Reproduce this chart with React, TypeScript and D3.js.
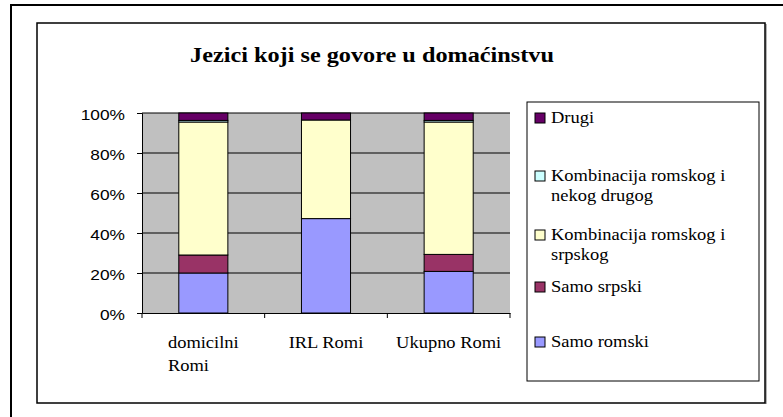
import React, { useEffect, useRef } from 'react'
import * as d3 from 'd3'

// categories and the share (%) of each language group
const categories = ['domicilni Romi', 'IRL Romi', 'Ukupno Romi']
const samoRomski = [20, 47.2, 20.8]
const samoSrpski = [9, 0, 8.5]
const kombSrpski = [66.5, 49.3, 66.2]
const kombDrugi = [0.8, 0, 0.8]
const drugi = [3.7, 3.5, 3.7]

const seriesNames = [
  'Samo romski',
  'Samo srpski',
  'Kombinacija romskog i srpskog',
  'Kombinacija romskog i nekog drugog',
  'Drugi',
]
const seriesColors = ['#9999FF', '#993366', '#FFFFCC', '#CCFFFF', '#660066']
const yTicks = [0, 20, 40, 60, 80, 100]

const SERIF = 'Liberation Serif, Times New Roman, serif'
const SANS = 'Liberation Sans, Arial, sans-serif'
const SX = 1.155 // the source picture is a bit stretched horizontally

const App = () => {
  const svgRef = useRef<SVGSVGElement>(null)

  useEffect(() => {
    const svg = d3.select(svgRef.current)
    svg.selectAll('*').remove()

    // helper for (stretched) text
    const addText = (g: any, x: number, y: number, txt: string, size: number, font: string, anchor = 'start', weight = 'normal') =>
      g
        .append('text')
        .attr('transform', `translate(${x},${y}) scale(${SX},1)`)
        .attr('text-anchor', anchor)
        .attr('font-family', font)
        .attr('font-size', size)
        .attr('font-weight', weight)
        .attr('fill', '#000')
        .text(txt)

    const measure = (txt: string, size: number, font: string) => {
      const probe = svg.append('text').attr('font-family', font).attr('font-size', size).text(txt)
      const w = (probe.node() as SVGTextElement).getComputedTextLength() * SX
      probe.remove()
      return w
    }

    const wrap = (txt: string, size: number, font: string, maxW: number) => {
      const lines: string[] = []
      let cur = ''
      txt.split(' ').forEach((w) => {
        const test = cur ? cur + ' ' + w : w
        if (measure(test, size, font) > maxW && cur) {
          lines.push(cur)
          cur = w
        } else cur = test
      })
      lines.push(cur)
      return lines
    }

    // outer frame and chart frame
    svg.append('rect').attr('x', 11).attr('y', 5).attr('width', 800).attr('height', 430)
      .attr('fill', 'none').attr('stroke', '#000').attr('stroke-width', 2)
    svg.append('line').attr('x1', 766).attr('x2', 766).attr('y1', 24).attr('y2', 404)
      .attr('stroke', '#999').attr('stroke-width', 1.5)
    svg.append('rect').attr('x', 37).attr('y', 23).attr('width', 728).attr('height', 380)
      .attr('fill', '#fff').attr('stroke', '#000').attr('stroke-width', 1.5)

    // title
    addText(svg, 372, 62, 'Jezici koji se govore u domaćinstvu', 21, SERIF, 'middle', 'bold')

    // scales
    const plot = { left: 142, right: 510, top: 113, bottom: 313 }
    const x = d3.scaleBand<string>().domain(categories).range([plot.left, plot.right]).padding(0)
    const y = d3.scaleLinear().domain([0, 100]).range([plot.bottom, plot.top])

    // plot background + gridlines
    svg.append('rect').attr('x', plot.left).attr('y', plot.top)
      .attr('width', plot.right - plot.left).attr('height', plot.bottom - plot.top).attr('fill', '#C0C0C0')
    svg.append('g').selectAll('line').data(yTicks.slice(1)).enter().append('line')
      .attr('x1', plot.left).attr('x2', plot.right)
      .attr('y1', (d) => y(d)).attr('y2', (d) => y(d))
      .attr('stroke', '#000').attr('stroke-width', 1)

    // stacked bars
    const rows = categories.map((c, i) => ({
      cat: c,
      'Samo romski': samoRomski[i],
      'Samo srpski': samoSrpski[i],
      'Kombinacija romskog i srpskog': kombSrpski[i],
      'Kombinacija romskog i nekog drugog': kombDrugi[i],
      Drugi: drugi[i],
    }))
    const stacked = d3.stack<any>().keys(seriesNames)(rows)
    const barW = x.bandwidth() * 0.4
    stacked.forEach((layer, si) => {
      svg.append('g').selectAll('rect').data(layer).enter().append('rect')
        .attr('x', (d: any) => (x(d.data.cat) as number) + (x.bandwidth() - barW) / 2)
        .attr('y', (d: any) => y(d[1]))
        .attr('width', barW)
        .attr('height', (d: any) => y(d[0]) - y(d[1]))
        .attr('fill', seriesColors[si])
        .attr('stroke', '#000')
        .attr('stroke-width', (d: any) => (d[1] - d[0] > 0 ? 1 : 0))
    })

    // y axis
    const yAxis = svg.append('g').attr('transform', `translate(${plot.left},0)`)
      .call(d3.axisLeft(y).tickValues(yTicks).tickSize(5).tickFormat(() => ''))
    yAxis.select('.domain').attr('stroke', '#000')
    yTicks.forEach((t) => addText(svg, 125, y(t) + 7, t + '%', 15, SANS, 'end'))

    // x axis
    const xAxis = svg.append('g').attr('transform', `translate(0,${plot.bottom})`)
      .call(d3.axisBottom(x).tickSize(0).tickFormat(() => ''))
    xAxis.select('.domain').attr('stroke', '#000')
    const bounds = [...categories.map((c) => x(c) as number), plot.right]
    svg.append('g').selectAll('line').data(bounds).enter().append('line')
      .attr('x1', (d) => d).attr('x2', (d) => d)
      .attr('y1', plot.bottom).attr('y2', plot.bottom + 5)
      .attr('stroke', '#000')
    categories.forEach((c) => {
      const lines = wrap(c, 16, SERIF, 110)
      const cx = (x(c) as number) + x.bandwidth() / 2
      const w0 = measure(lines[0], 16, SERIF)
      lines.forEach((ln, li) => {
        if (lines.length > 1) addText(svg, cx - w0 / 2, 348 + li * 23, ln, 16, SERIF, 'start')
        else addText(svg, cx, 348, ln, 16, SERIF, 'middle')
      })
    })

    // legend
    svg.append('rect').attr('x', 527).attr('y', 102).attr('width', 232).attr('height', 279)
      .attr('fill', '#fff').attr('stroke', '#000').attr('stroke-width', 1)
    const legendY = [123, 181, 240, 292, 347]
    const legendOrder = seriesNames.map((n, i) => ({ n, c: seriesColors[i] })).reverse()
    legendOrder.forEach((item, i) => {
      const base = legendY[i]
      svg.append('rect').attr('x', 535).attr('y', base - 10).attr('width', 10).attr('height', 10)
        .attr('fill', item.c).attr('stroke', '#000').attr('stroke-width', 1)
      wrap(item.n, 16, SERIF, 185).forEach((ln, li) => addText(svg, 551, base + li * 20, ln, 16, SERIF))
    })
  }, [])

  return (
    <svg
      ref={svgRef}
      width={783}
      height={417}
      style={{ position: 'absolute', left: 0, top: 0, background: '#fff' }}
    ></svg>
  )
}

export default App
